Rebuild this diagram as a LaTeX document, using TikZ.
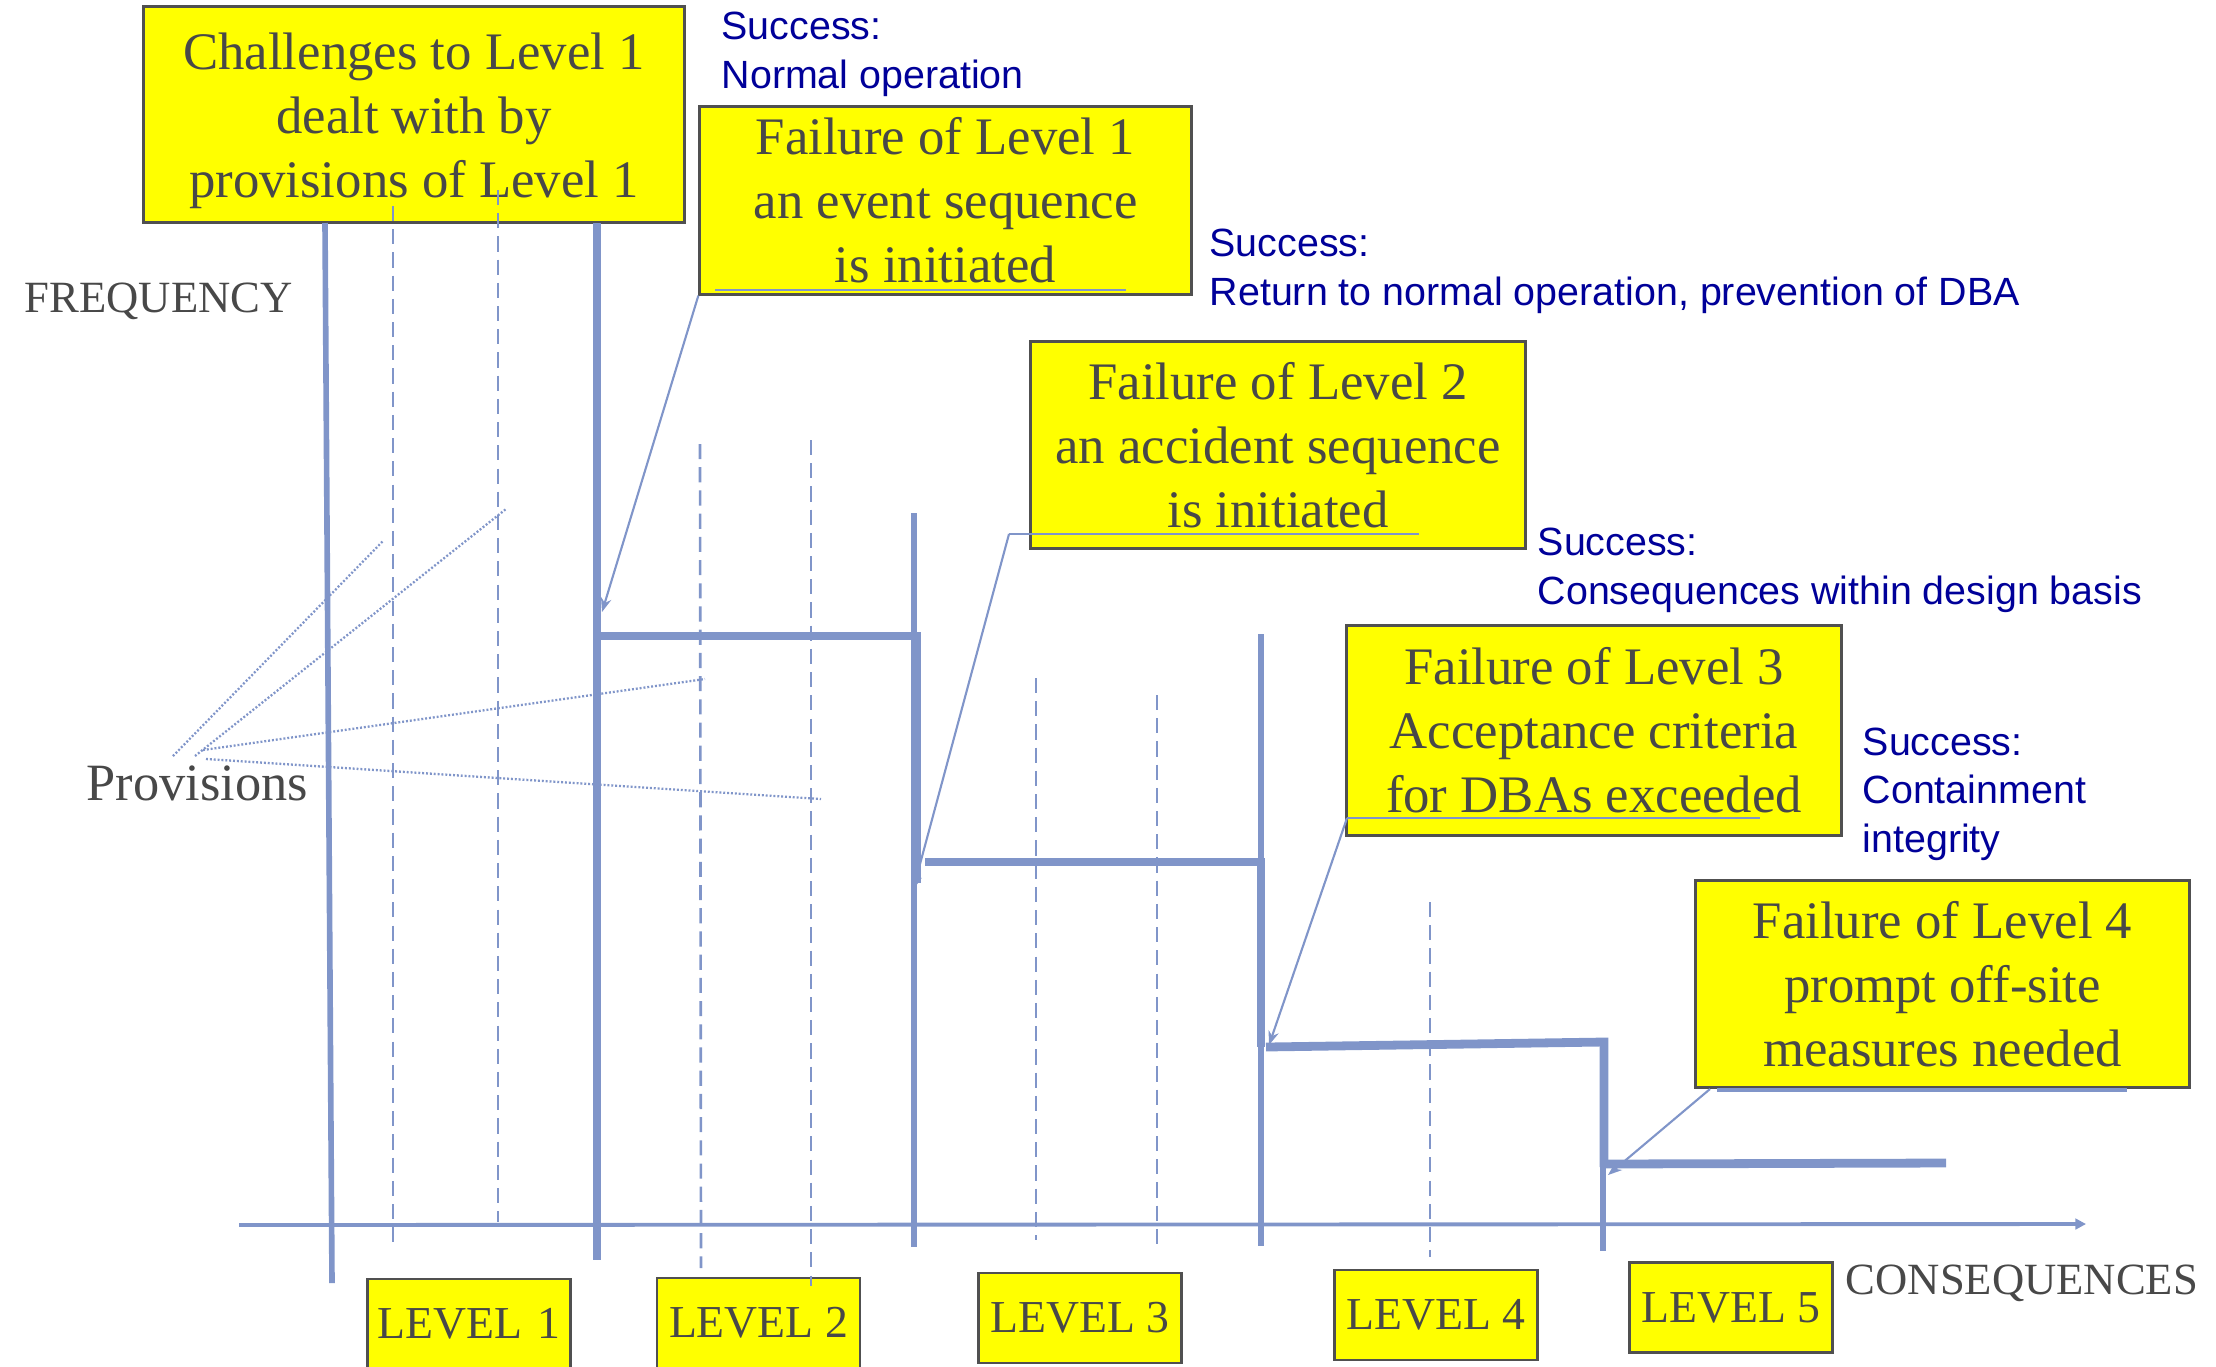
\documentclass[tikz,border=0pt]{standalone}
\usepackage{fontspec}
\setmainfont{Liberation Serif}
\newfontfamily\notefont{Liberation Sans}
\usetikzlibrary{arrows.meta}

\definecolor{stepblue}{RGB}{128,149,201}
\definecolor{boxedge}{RGB}{80,80,80}
\definecolor{boxtext}{RGB}{72,72,72}
\definecolor{notenavy}{RGB}{0,0,153}
\definecolor{boxfill}{RGB}{255,255,0}

\begin{document}
\begin{tikzpicture}[x=0.01cm,y=-0.01cm,
  levelbound/.style={draw=stepblue,line width=1.6pt},
  subdiv/.style={draw=stepblue,line width=0.75pt,dash pattern=on 4.3pt off 2.3pt},
  stepline/.style={draw=stepblue,line width=2.5pt},
  provline/.style={draw=stepblue,line width=0.65pt,dash pattern=on 0.55pt off 0.55pt},
  calloutline/.style={draw=stepblue,line width=0.6pt,-{Stealth[length=4pt,width=3pt]}},
  boxrule/.style={draw=stepblue,line width=0.7pt},
  failbox/.style={draw=boxedge,line width=0.85pt,fill=boxfill,text=boxtext,inner sep=0pt,
    align=center,font=\fontsize{15}{18.2}\selectfont},
  levelbox/.style={draw=boxedge,line width=0.8pt,fill=boxfill,text=boxtext,inner sep=0pt,
    minimum width=2.03cm,minimum height=0.9cm,font=\fontsize{13}{15}\selectfont},
  axislabel/.style={text=boxtext,inner sep=0pt,anchor=base west},
  note/.style={text=notenavy,inner sep=0pt,anchor=base west,align=left,
    font=\notefont\fontsize{11.2}{13.7}\selectfont}
]
\useasboundingbox (0,0) rectangle (2216,1366);

% statement boxes
\node[failbox,minimum width=5.40cm,minimum height=2.15cm] (chal) at (414,114.5)
  {\raisebox{-1.8pt}[\height][\depth]{\begin{tabular}{@{}c@{}}Challenges to Level 1\\dealt with by\\provisions of Level 1\end{tabular}}};
\node[failbox,minimum width=4.91cm,minimum height=1.87cm] (f1) at (945.5,200.5)
  {Failure of Level 1\\an event sequence\\is initiated};
\node[failbox,minimum width=4.94cm,minimum height=2.06cm] (f2) at (1278,445)
  {Failure of Level 2\\an accident sequence\\is initiated};
\node[failbox,minimum width=4.94cm,minimum height=2.09cm] (f3) at (1594,730.5)
  {Failure of Level 3\\Acceptance criteria\\for DBAs exceeded};
\node[failbox,minimum width=4.93cm,minimum height=2.06cm] (f4) at (1942.5,984)
  {Failure of Level 4\\prompt off-site\\measures needed};

% level labels along the consequence axis
\node[levelbox] (lv1) at (469,1324) {LEVEL\hspace{0.33em}1};
\node[levelbox] (lv2) at (758.5,1323) {LEVEL 2};
\node[levelbox] (lv3) at (1080,1318) {LEVEL 3};
\node[levelbox] (lv4) at (1436,1315) {LEVEL 4};
\node[levelbox] (lv5) at (1731,1307.5) {LEVEL 5};

% success notes (placed by the baseline of their last line)
\node[note] (s1) at (721,88) {Success:\\Normal operation};
\node[note] (s2) at (1209,305) {Success:\\Return to normal operation, prevention of DBA};
\node[note] (s3) at (1537,604) {Success:\\Consequences within design basis};
\node[note] (s4) at (1862,852) {Success:\\Containment\\integrity};

% axis labels
\node[axislabel,font=\fontsize{12.7}{15}\selectfont] (freq) at (24,312) {FREQUENCY};
\node[axislabel,font=\fontsize{14.9}{17}\selectfont] (prov) at (86,800) {Provisions};
\node[axislabel,font=\fontsize{12.7}{15}\selectfont] (cons) at (1845,1294) {CONSEQUENCES};

% consequence axis
\coordinate (xl) at (239,1225);
\coordinate (xr) at (2086,1224);
\draw[stepblue,line width=1.1pt,-{Triangle[length=3pt,width=3pt]}] (xl) -- (xr);

% level boundaries
\draw[levelbound] (325,223) -- (332,1283);
\draw[levelbound,line width=2pt] (597,223) -- (597,1260);
\draw[levelbound] (914,513) -- (914,1247);
\draw[levelbound] (1261,634) -- (1261,1246);
\draw[levelbound] (1603,1042) -- (1603,1251);

% provisions within each level
\draw[subdiv] (393,206) -- (393,1243);
\draw[subdiv] (498,190) -- (498,1222);
\draw[subdiv] (700,444) -- (701,1268);
\draw[subdiv] (811,440) -- (811,1286);
\draw[subdiv] (1036,678) -- (1036,1240);
\draw[subdiv] (1157,695) -- (1157,1246);
\draw[subdiv] (1430,902) -- (1430,1257);

% frequency staircase
\draw[stepline] (597,636) -- (917,636) -- (917,883);
\draw[stepline] (925,862) -- (1261,862) -- (1261,1047);
\draw[stepline] (1266,1047) -- (1604,1042) -- (1604,1167);
\draw[stepline] (1603,1164) -- (1946,1163);

% pointers from "Provisions"
\coordinate (pa) at (173,756);
\coordinate (pb) at (195,756);
\coordinate (pc) at (203,750);
\coordinate (pd) at (206,759);
\draw[provline] (pa) -- (383,541);
\draw[provline] (pb) -- (506,509);
\draw[provline] (pc) -- (705,679);
\draw[provline] (pd) -- (821,799);

% rules under the box texts
\coordinate (u1a) at (715,290);  \coordinate (u1b) at (1126,290);
\coordinate (u2a) at (1009,534); \coordinate (u2b) at (1419,534);
\coordinate (u3a) at (1347,818); \coordinate (u3b) at (1760,818);
\coordinate (u4a) at (1717,1090); \coordinate (u4b) at (2127,1090);
\draw[boxrule] (u1a) -- (u1b);
\draw[boxrule] (u2a) -- (u2b);
\draw[boxrule] (u3a) -- (u3b);
\draw[boxrule,line width=1.4pt] (u4a) -- (u4b);

% callouts to the staircase
\coordinate (t1) at (602,612);
\coordinate (t2) at (913,890);
\coordinate (t3) at (1269,1045);
\coordinate (t4) at (1608,1175);
\coordinate (c4) at (1710,1089);
\draw[calloutline] (f1.south west) -- (t1);
\draw[calloutline] (u2a) -- (t2);
\draw[calloutline] (u3a) -- (t3);
\draw[calloutline] (c4) -- (t4);
\end{tikzpicture}
\end{document}
